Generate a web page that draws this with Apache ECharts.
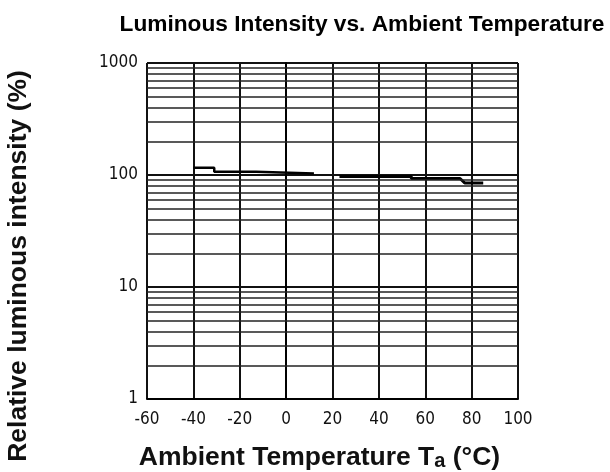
<!DOCTYPE html>
<html>
<head>
<meta charset="utf-8">
<script src="https://cdn.jsdelivr.net/npm/echarts@6/dist/echarts.min.js"></script>
<style>html,body{margin:0;padding:0;background:#fff}#c{width:610px;height:472px}</style>
</head>
<body>
<div id="c"></div>
<script>
const xTicks = [-60, -40, -20, 0, 20, 40, 60, 80, 100];
const yTicks = [1, 10, 100, 1000];
const minorGrid = [2,3,4,5,6,7,8,9,20,30,40,50,60,70,80,90,200,300,400,500,600,700,800,900];
const tempA = [-40, -31, -31, -13, -13, 12];
const intenA = [116, 116, 107, 107, 103, 103];
const tempB = [23, 54, 54, 75, 75, 77, 77, 85];
const intenB = [97, 97, 93, 93, 93, 85, 85, 85];

const tickFont = '"Liberation Sans Narrow","DejaVu Sans Condensed","Liberation Sans",sans-serif';
const boldFont = '"Liberation Sans", Arial, sans-serif';
const chart = echarts.init(document.getElementById('c'));
chart.setOption({
  animation: false,
  title: {
    text: 'Luminous Intensity vs. Ambient Temperature',
    left: 357, top: 8, textAlign: 'center',
    textStyle: {fontFamily: boldFont, fontWeight: 'bold', fontSize: 22.7, color: '#000'}
  },
  grid: {left: 147, right: 92, top: 63, bottom: 73, containLabel: false, outerBoundsMode: 'none'},
  xAxis: {
    type: 'value', min: xTicks[0], max: xTicks[xTicks.length - 1], interval: 20,
    axisLine: {show: true, lineStyle: {color: '#000', width: 2}},
    axisTick: {show: false},
    axisLabel: {margin: 12, fontSize: 17, color: '#111', fontFamily: tickFont,
      formatter: v => String(v)},
    splitLine: {show: true, lineStyle: {color: '#111', width: 2}},
    name: 'Ambient Temperature T{s|a} (°C)',
    nameLocation: 'middle', nameGap: 45,
    nameTextStyle: {fontFamily: boldFont, fontWeight: 'bold', fontSize: 26.5, color: '#111',
      padding: [0, 26, 0, 0],
      rich: {s: {fontFamily: boldFont, fontWeight: 'bold', fontSize: 20, color: '#111', padding: [7, 0, 0, 0]}}}
  },
  yAxis: {
    type: 'log', logBase: 10, min: yTicks[0], max: yTicks[yTicks.length - 1],
    axisLine: {show: true, lineStyle: {color: '#000', width: 2}},
    axisTick: {show: false},
    axisLabel: {margin: 9, fontSize: 17, color: '#111', fontFamily: tickFont,
      formatter: v => String(v)},
    splitLine: {show: true, lineStyle: {color: '#111', width: 2}},
    name: 'Relative luminous intensity (%)',
    nameLocation: 'middle', nameRotate: 90, nameGap: 115,
    nameTextStyle: {fontFamily: boldFont, fontWeight: 'bold', fontSize: 26.5, color: '#111',
      padding: [0, 70, 0, 0]}
  },
  series: [
    {
      type: 'line', silent: true, symbol: 'none', data: [],
      markLine: {
        silent: true, symbol: 'none', label: {show: false},
        lineStyle: {color: '#222', width: 1.5, type: 'solid'},
        data: minorGrid.map(v => ({yAxis: v}))
      }
    },
    {
      type: 'line', symbol: 'none', silent: true,
      lineStyle: {color: '#000', width: 2.5},
      data: tempA.map((t, i) => [t, intenA[i]])
    },
    {
      type: 'line', symbol: 'none', silent: true,
      lineStyle: {color: '#000', width: 3},
      data: tempB.map((t, i) => [t, intenB[i]])
    }
  ]
});
</script>
</body>
</html>
